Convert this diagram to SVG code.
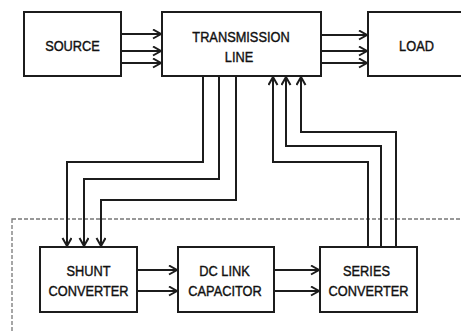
<svg xmlns="http://www.w3.org/2000/svg" width="461" height="331" viewBox="0 0 461 331">
<style>
.box{fill:#fff;stroke:#1c1c1c;stroke-width:2}
.lbl{font-family:"Liberation Sans",Arial,sans-serif;font-size:12.8px;fill:#111;stroke:#111;stroke-width:0.35;text-anchor:middle}
.c{fill:none;stroke:#1c1c1c;stroke-width:2;marker-end:url(#ah)}
.dash{fill:none;stroke:#777;stroke-width:1.3;stroke-dasharray:4 2}
</style>
<defs>
<marker id="ah" markerUnits="userSpaceOnUse" markerWidth="12" markerHeight="12" refX="9" refY="5" orient="auto" viewBox="0 0 12 12">
<path d="M1,0.5 L9,5 L1,9.5" fill="none" stroke="#1c1c1c" stroke-width="2"/>
</marker>
</defs>
<rect width="461" height="331" fill="#fff"/>
<rect class="dash" x="12" y="219" width="460" height="130"/>
<g id="connectors">
<path class="c" d="M121,34 H161"/>
<path class="c" d="M121,51 H161"/>
<path class="c" d="M121,63 H161"/>
<path class="c" d="M321,35 H367"/>
<path class="c" d="M321,51 H367"/>
<path class="c" d="M321,63 H367"/>
<path class="c" d="M203,76 V162 H67 V246"/>
<path class="c" d="M219,76 V179 H84 V246"/>
<path class="c" d="M236,76 V200 H101 V246"/>
<path class="c" d="M368,247 V162 H273 V77"/>
<path class="c" d="M381,247 V146 H286 V77"/>
<path class="c" d="M396,247 V132 H301 V77"/>
<path class="c" d="M137,270 H177"/>
<path class="c" d="M137,291 H177"/>
<path class="c" d="M274,270 H319"/>
<path class="c" d="M274,291 H319"/>
</g>
<g id="source">
<rect class="box" x="24" y="12" width="97" height="64"/>
<text class="lbl" transform="translate(72.5,51) scale(1,1.2)">SOURCE</text>
</g>
<g id="transmission-line">
<rect class="box" x="162" y="12" width="159" height="64"/>
<text class="lbl" transform="translate(241,42) scale(1,1.2)">TRANSMISSION</text>
<text class="lbl" transform="translate(239,62) scale(1,1.2)">LINE</text>
</g>
<g id="load">
<rect class="box" x="368" y="12" width="100" height="64"/>
<text class="lbl" transform="translate(416.5,51) scale(1,1.2)">LOAD</text>
</g>
<g id="shunt-converter">
<rect class="box" x="40" y="247" width="97" height="65"/>
<text class="lbl" transform="translate(88.5,276) scale(1,1.2)">SHUNT</text>
<text class="lbl" transform="translate(88.5,296) scale(1,1.2)">CONVERTER</text>
</g>
<g id="dc-link-capacitor">
<rect class="box" x="178" y="247" width="96" height="65"/>
<text class="lbl" transform="translate(224.5,276) scale(1,1.2)">DC LINK</text>
<text class="lbl" transform="translate(225,296) scale(1,1.2)">CAPACITOR</text>
</g>
<g id="series-converter">
<rect class="box" x="320" y="247" width="97" height="65"/>
<text class="lbl" transform="translate(366.5,276) scale(1,1.2)">SERIES</text>
<text class="lbl" transform="translate(368.5,296) scale(1,1.2)">CONVERTER</text>
</g>
</svg>
